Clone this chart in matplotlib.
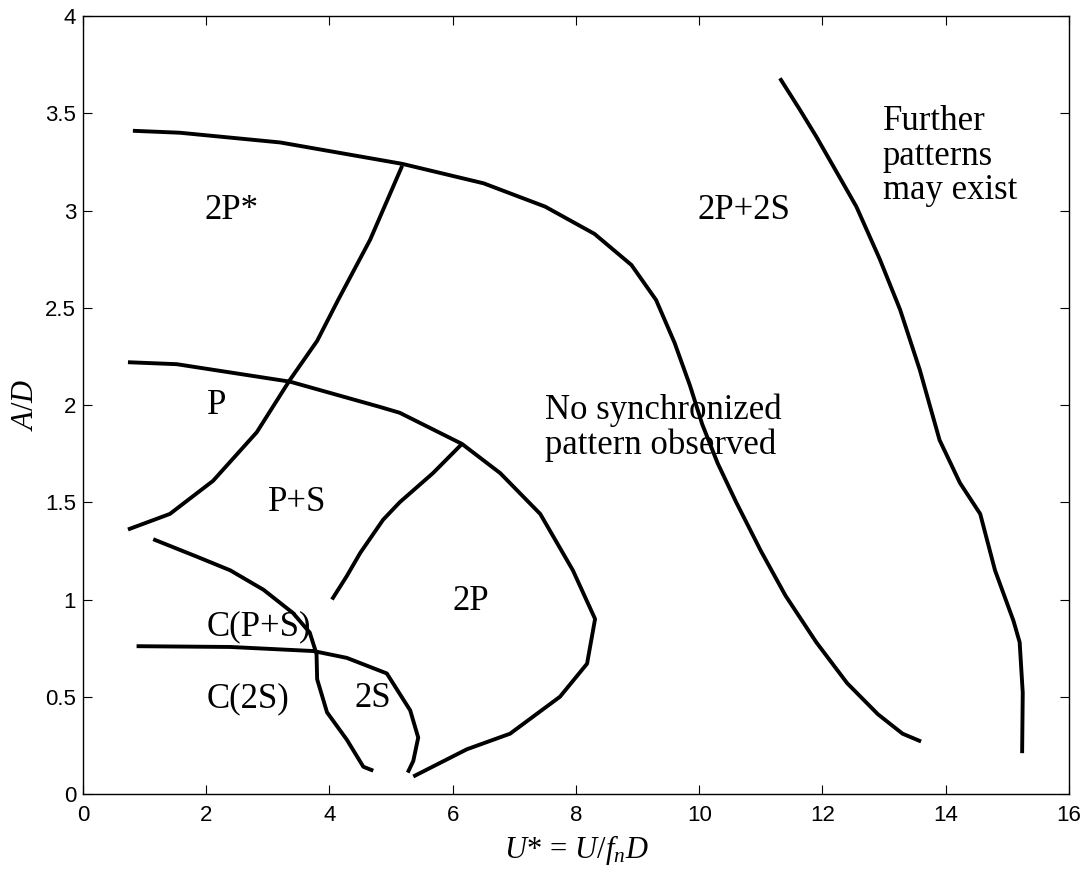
import numpy as np
import matplotlib.pyplot as plt

# curvas digitalizadas de la figura (U*, A/D)
x_top = [0.81, 1.57, 3.2, 5.18, 6.5, 7.5, 8.3, 8.9, 9.3, 9.6, 9.85, 10.05, 10.3, 10.6, 11.0, 11.4, 11.9, 12.4, 12.9, 13.3, 13.6]
y_top = [3.41, 3.40, 3.35, 3.24, 3.14, 3.02, 2.88, 2.72, 2.54, 2.32, 2.1, 1.9, 1.7, 1.5, 1.25, 1.02, 0.78, 0.57, 0.41, 0.31, 0.27]

x_far = [11.31, 11.63, 11.9, 12.28, 12.55, 12.93, 13.26, 13.58, 13.9, 14.23, 14.56, 14.8, 15.1, 15.2, 15.25, 15.24]
y_far = [3.68, 3.52, 3.38, 3.17, 3.02, 2.75, 2.49, 2.18, 1.82, 1.6, 1.44, 1.15, 0.89, 0.78, 0.52, 0.21]

x_ps = [0.73, 1.41, 2.11, 2.82, 3.36, 3.8, 4.14, 4.66, 5.18]
y_ps = [1.36, 1.44, 1.61, 1.86, 2.13, 2.33, 2.54, 2.85, 3.23]

x_p = [0.73, 1.52, 3.36, 4.82, 5.14, 6.15, 6.77, 7.42, 7.95, 8.31, 8.18, 7.74, 6.93, 6.23, 5.36]
y_p = [2.22, 2.21, 2.12, 1.99, 1.96, 1.80, 1.65, 1.44, 1.15, 0.90, 0.67, 0.50, 0.31, 0.23, 0.09]

x_2p = [4.04, 4.28, 4.5, 4.87, 5.14, 5.68, 6.15]
y_2p = [1.0, 1.12, 1.24, 1.41, 1.5, 1.65, 1.80]

x_cps = [1.14, 1.85, 2.39, 2.93, 3.41, 3.68, 3.79, 3.8, 3.96, 4.28, 4.55, 4.71]
y_cps = [1.31, 1.22, 1.15, 1.05, 0.93, 0.83, 0.72, 0.59, 0.42, 0.28, 0.14, 0.12]

x_2s = [0.87, 2.39, 3.74, 4.28, 4.93, 5.31, 5.44, 5.36, 5.27]
y_2s = [0.76, 0.756, 0.735, 0.70, 0.62, 0.43, 0.29, 0.17, 0.11]

# etiquetas de regiones
etiquetas = ["2P*", "2P+2S", "Further\npatterns\nmay exist", "P", "P+S",
             "No synchronized\npattern observed", "2P", "C(P+S)", "C(2S)", "2S"]
etiq_x = [1.98, 9.98, 12.98, 2.01, 3.0, 7.5, 6.0, 2.01, 2.01, 4.41]
etiq_y = [3.0, 3.0, 3.28, 2.0, 1.5, 1.885, 0.99, 0.86, 0.49, 0.49]

plt.rcParams['mathtext.fontset'] = 'custom'
plt.rcParams['mathtext.rm'] = 'Liberation Serif'
plt.rcParams['mathtext.it'] = 'Liberation Serif:italic'

fig = plt.figure(figsize=(10.89, 8.76), dpi=100)
ax = fig.add_axes([0.0762, 0.0936, 0.9054, 0.8881])

for xs, ys in [(x_top, y_top), (x_far, y_far), (x_ps, y_ps), (x_p, y_p),
               (x_2p, y_2p), (x_cps, y_cps), (x_2s, y_2s)]:
    ax.plot(xs, ys, color='black', lw=2.8, solid_capstyle='butt')

for t, xt, yt in zip(etiquetas, etiq_x, etiq_y):
    ax.text(xt, yt, t, family='Liberation Serif', fontsize=25, ha='left',
            va='center', linespacing=1.05)

ax.set_xlim(0, 16)
ax.set_ylim(0, 4)
ax.set_xticks(np.arange(0, 17, 2))
ax.set_yticks(np.arange(0, 4.01, 0.5))
ax.set_yticklabels(['0', '0.5', '1', '1.5', '2', '2.5', '3', '3.5', '4'])
ax.tick_params(direction='in', length=6.7, width=0.8, top=True, right=True,
               labelsize=16)
ax.tick_params(axis='x', pad=8)
ax.tick_params(axis='y', pad=5)
for lab in ax.get_xticklabels() + ax.get_yticklabels():
    lab.set_family('Liberation Sans')
for s in ax.spines.values():
    s.set_linewidth(1.0)

ax.set_xlabel(r'$U{*}\,=\,U/f_{n}D$', fontsize=22, labelpad=5)
ax.set_ylabel(r'$A/D$', fontsize=22, labelpad=4)

plt.savefig('out.png')
